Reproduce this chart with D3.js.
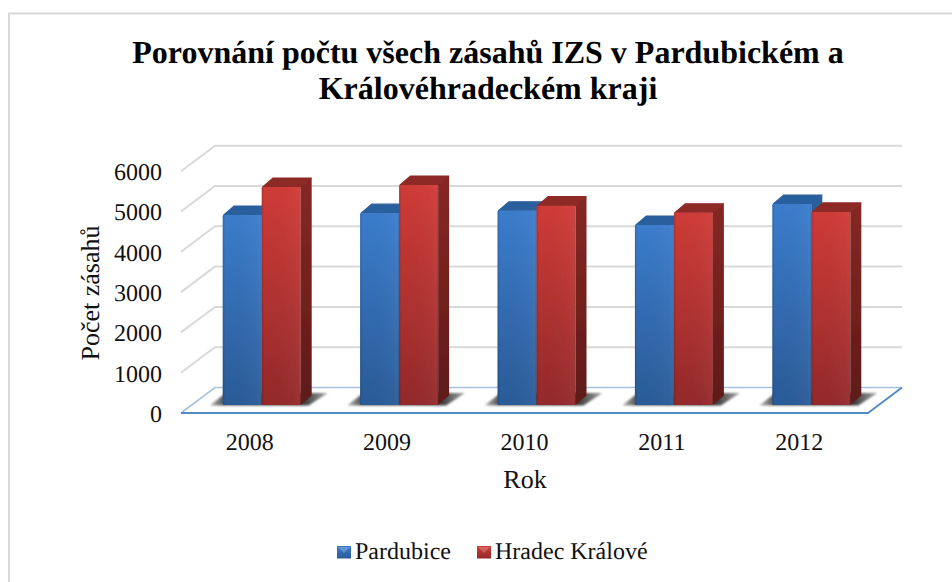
<!DOCTYPE html>
<html>
<head>
<meta charset="utf-8">
<script src="https://cdn.jsdelivr.net/npm/d3@7"></script>
<style>
  html, body { margin: 0; padding: 0; background: #fff; }
  svg { display: block; font-family: "Liberation Serif", "Times New Roman", serif; text-rendering: geometricPrecision; }
</style>
</head>
<body>
<svg></svg>
<script>
const width = 952;
const height = 582;

// Data
const years = ["2008", "2009", "2010", "2011", "2012"];
const seriesNames = ["Pardubice", "Hradec Králové"];
const pardubice = [4715, 4760, 4820, 4465, 4988];
const hradec = [5409, 5459, 4945, 4770, 4790];
const yTicks = [0, 1000, 2000, 3000, 4000, 5000, 6000];
const titleLines = ["Porovnání počtu všech zásahů IZS v Pardubickém a", "Královéhradeckém kraji"];

const svg = d3.select("svg")
  .attr("width", width)
  .attr("height", height)
  .attr("viewBox", [0, 0, width, height]);

// Scales sit on the front edge of the 3d floor
const x = d3.scaleBand().domain(years).range([181, 868]);
const x1 = d3.scaleBand().domain(seriesNames).range([0, 78]);
const y = d3.scaleLinear().domain([0, 6000]).range([413, 171.2]);

// Offsets of the fake 3d
const wall = { dx: 34, dy: -25.5 };   // front edge -> back wall
const plane = { dx: 12, dy: -8 };     // front edge -> bar front
const depth = { dx: 11, dy: -9.5 };   // bar depth

const defs = svg.append("defs");

function vGrad(id, top, bottom) {
  const g = defs.append("linearGradient").attr("id", id)
    .attr("x1", 0).attr("y1", 0).attr("x2", 0).attr("y2", 1);
  g.append("stop").attr("offset", 0).attr("stop-color", top);
  g.append("stop").attr("offset", 1).attr("stop-color", bottom);
}
vGrad("blueFront", "#3b7ccc", "#2a5b97");
vGrad("redFront", "#cf3b37", "#93292a");
vGrad("blueSide", "#2a5f9e", "#1f4676");
vGrad("redSide", "#862823", "#5e1a19");

const edge = defs.append("linearGradient").attr("id", "edge");
[[0, "#000", 0.14], [0.07, "#000", 0], [0.88, "#fff", 0.03], [0.95, "#fff", 0.05], [1, "#000", 0.14]]
  .forEach(s => edge.append("stop").attr("offset", s[0]).attr("stop-color", s[1]).attr("stop-opacity", s[2]));

defs.append("filter").attr("id", "soft")
  .attr("x", "-5%").attr("y", "-5%").attr("width", "110%").attr("height", "110%")
  .append("feGaussianBlur").attr("stdDeviation", 0.5);
defs.append("filter").attr("id", "shadowBlur")
  .attr("x", "-20%").attr("y", "-50%").attr("width", "140%").attr("height", "200%")
  .append("feGaussianBlur").attr("stdDeviation", 1.2);

const shadowFade = defs.append("linearGradient").attr("id", "shadowFade");
[[0, "#bdbdbd"], [0.12, "#555"], [0.8, "#3c3c3c"], [1, "#a8a8a8"]]
  .forEach(s => shadowFade.append("stop").attr("offset", s[0]).attr("stop-color", s[1]));

// Frame of the picture, only left and top are visible
svg.append("path")
  .attr("d", `M9,${height}V13.5H${width}`)
  .attr("fill", "none")
  .attr("stroke", "#d9d9d9")
  .attr("stroke-width", 2);

// Title
svg.append("g").selectAll("text")
  .data(titleLines)
  .enter().append("text")
  .attr("x", 488)
  .attr("y", (d, i) => 63 + i * 35.6)
  .attr("text-anchor", "middle")
  .attr("font-weight", "bold")
  .attr("font-size", 32)
  .attr("fill", "#000")
  .text(d => d);

// Walls
const x0 = x.range()[0];
const xEnd = x.range()[1];
const grid = svg.append("g").attr("fill", "none").attr("stroke", "#d9d9d9").attr("stroke-width", 2);

grid.selectAll(".wall")
  .data(yTicks.filter(d => d > 0))
  .enter().append("path")
  .attr("class", "wall")
  .attr("d", d => `M${x0},${y(d)}L${x0 + wall.dx},${y(d) + wall.dy}H${xEnd + wall.dx}`);

// Floor
const floor = svg.append("g").attr("fill", "none");
floor.append("path")
  .attr("d", `M${x0},${y(0)}L${x0 + wall.dx},${y(0) + wall.dy}H${xEnd + wall.dx}`)
  .attr("stroke", "#a8c1e0")
  .attr("stroke-width", 1.6);
floor.append("path")
  .attr("d", `M${x0},${y(0)}H${xEnd}L${xEnd + wall.dx},${y(0) + wall.dy}`)
  .attr("stroke", "#5388c4")
  .attr("stroke-width", 1.8);

// Bars
const rows = years.map((year, i) => ({ year: year, values: [pardubice[i], hradec[i]] }));
const colorKeys = ["blue", "red"];
const topColors = ["#2a5f9e", "#8e2a26"];

const groups = svg.append("g").attr("filter", "url(#soft)")
  .selectAll("g")
  .data(rows)
  .enter().append("g")
  .attr("transform", d => `translate(${x(d.year) + (x.bandwidth() - 78) / 2 + plane.dx},${plane.dy})`);

// Floor shadow behind each pair
groups.append("path")
  .attr("d", () => {
    const l = x1(seriesNames[0]);
    const r = x1(seriesNames[1]) + x1.bandwidth();
    return `M${l - 13},${y(0) + 0.5}L${l + 3},${y(0) - 12}H${r + 27}L${r + 8},${y(0) + 0.5}Z`;
  })
  .attr("fill", "url(#shadowFade)")
  .attr("filter", "url(#shadowBlur)");

const bars = groups.selectAll(".bar")
  .data(d => d.values.map((v, i) => ({ value: v, index: i })))
  .enter().append("g")
  .attr("class", "bar");

const barLeft = d => x1(seriesNames[d.index]);
const barRight = d => barLeft(d) + x1.bandwidth();

// top face
bars.append("path")
  .attr("d", d => `M${barLeft(d) + 1},${y(d.value)}L${barLeft(d) + depth.dx + 0.5},${y(d.value) + depth.dy + 0.5}H${barRight(d) + depth.dx - 0.5}L${barRight(d)},${y(d.value)}Z`)
  .attr("fill", d => topColors[d.index])
  .attr("stroke", d => topColors[d.index])
  .attr("stroke-width", 1.2)
  .attr("stroke-linejoin", "round");

// side face
bars.append("path")
  .attr("d", d => `M${barRight(d)},${y(d.value)}L${barRight(d) + depth.dx},${y(d.value) + depth.dy}V${y(0) + depth.dy}L${barRight(d)},${y(0)}Z`)
  .attr("fill", d => `url(#${colorKeys[d.index]}Side)`);

// front face
bars.append("rect")
  .attr("x", barLeft)
  .attr("y", d => y(d.value))
  .attr("width", x1.bandwidth())
  .attr("height", d => y(0) - y(d.value))
  .attr("rx", 1.2)
  .attr("fill", d => `url(#${colorKeys[d.index]}Front)`);

bars.append("rect")
  .attr("x", barLeft)
  .attr("y", d => y(d.value))
  .attr("width", x1.bandwidth())
  .attr("height", d => y(0) - y(d.value))
  .attr("rx", 1.2)
  .attr("fill", "url(#edge)");

// Axes
const yAxis = svg.append("g")
  .attr("transform", "translate(169,0.7)")
  .call(d3.axisLeft(y).tickValues(yTicks).tickSize(0).tickPadding(7).tickFormat(d3.format("d")));
yAxis.select(".domain").remove();
yAxis.selectAll("text")
  .attr("font-family", "Liberation Serif")
  .attr("font-size", 24)
  .attr("fill", "#111");

const xAxis = svg.append("g")
  .attr("transform", `translate(0,${y(0)})`)
  .call(d3.axisBottom(x).tickSize(0).tickPadding(20));
xAxis.select(".domain").remove();
xAxis.selectAll("text")
  .attr("font-family", "Liberation Serif")
  .attr("font-size", 24)
  .attr("fill", "#111");

svg.append("text")
  .attr("x", 525)
  .attr("y", 488)
  .attr("text-anchor", "middle")
  .attr("font-size", 26)
  .attr("fill", "#111")
  .text("Rok");

svg.append("text")
  .attr("transform", "translate(99,293) rotate(-90)")
  .attr("text-anchor", "middle")
  .attr("font-size", 26)
  .attr("fill", "#111")
  .text("Počet zásahů");

// Legend
const legendX = [337, 477];
const legend = svg.append("g")
  .selectAll("g")
  .data(seriesNames)
  .enter().append("g")
  .attr("transform", (d, i) => `translate(${legendX[i]},546)`);

legend.append("rect")
  .attr("width", 14)
  .attr("height", 12.5)
  .attr("fill", (d, i) => `url(#${colorKeys[i]}Front)`);
legend.append("path")
  .attr("d", "M1,1H13L7,7Z")
  .attr("fill", "#fff")
  .attr("opacity", 0.22);
legend.append("text")
  .attr("x", 18)
  .attr("y", 12.5)
  .attr("font-size", 24)
  .attr("fill", "#111")
  .text(d => d);
</script>
</body>
</html>
